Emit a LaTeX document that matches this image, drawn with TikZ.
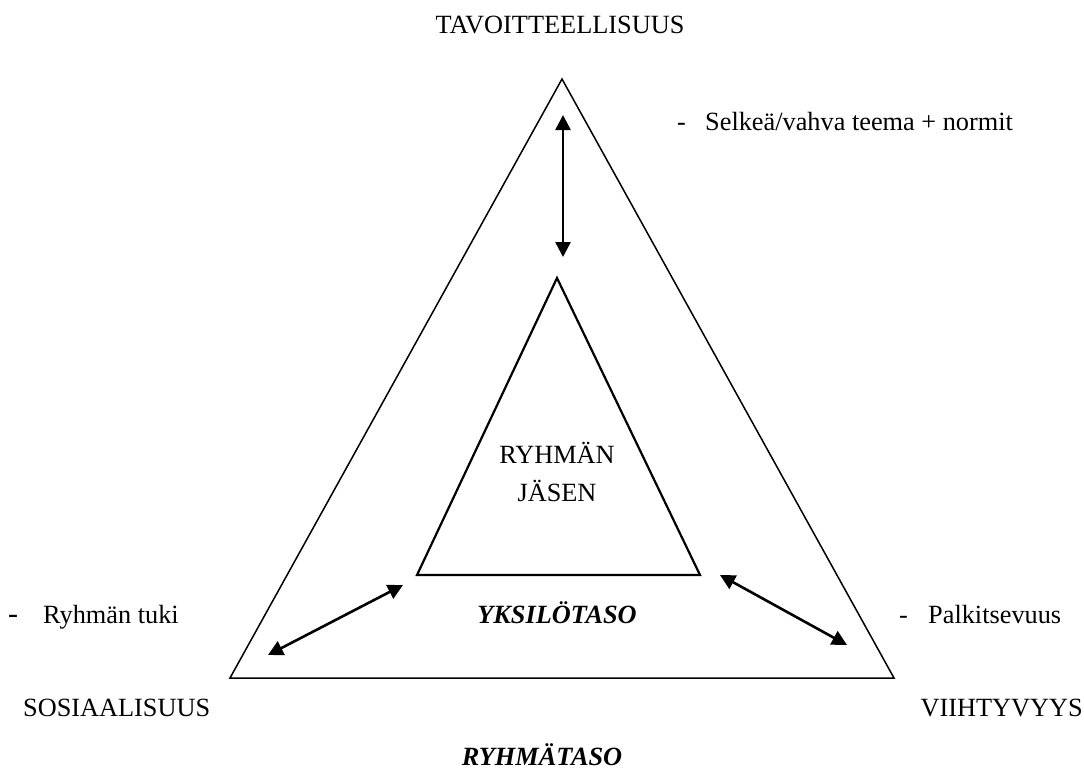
\documentclass[tikz,border=0pt]{standalone}
\usepackage{fontspec}
\setmainfont{Liberation Serif}
\usetikzlibrary{arrows.meta}

\tikzset{
  lbl/.style={inner sep=0pt, font=\fontsize{26.3}{30}\selectfont},
  lvl/.style={lbl, font=\fontsize{26.3}{30}\selectfont\bfseries\itshape},
  frame/.style={line width=1.5pt, line join=miter},
  core/.style={line width=2.2pt, line join=miter},
  link/.style={line width=2.6pt, {Triangle[length=15pt,width=15pt]}-{Triangle[length=15pt,width=15pt]}}
}

\begin{document}
\begin{tikzpicture}[x=1pt, y=-1pt]
  \useasboundingbox (0,0) rectangle (1084,769);

  % outer triangle: group level
  \coordinate (oa) at (562,79);
  \coordinate (ol) at (230,678);
  \coordinate (or) at (894,678);
  \draw[frame] (oa) -- (ol) -- (or) -- cycle;

  % inner triangle: individual level
  \coordinate (ia) at (557,278);
  \coordinate (il) at (417,575);
  \coordinate (ir) at (700,575);
  \draw[core] (ia) -- (il) -- (ir) -- cycle;

  % two-way links between the levels
  \coordinate (t1) at (563,115);
  \coordinate (t2) at (563,257);
  \coordinate (l1) at (268,655);
  \coordinate (l2) at (403,585);
  \coordinate (r1) at (720,575);
  \coordinate (r2) at (847,645);
  \draw[link] (t1) -- (t2);
  \draw[link] (l1) -- (l2);
  \draw[link] (r1) -- (r2);

  % corner labels
  \node[lbl, anchor=base] (tav) at (560,33) {TAVOITTEELLISUUS};
  \node[lbl, anchor=base west] (sos) at (23,716) {SOSIAALISUUS};
  \node[lbl, anchor=base east] (vii) at (1083,716) {VIIHTYVYYS};

  % side notes
  \node[lbl, anchor=base west] (d1) at (677,130) {-};
  \node[lbl, anchor=base west] (sel) at (705,130) {Selkeä/vahva teema + normit};
  \node[lbl, anchor=base west, font=\fontsize{30}{30}\selectfont] (d2) at (8,623) {-};
  \node[lbl, anchor=base west] (tuk) at (43,623) {Ryhmän tuki};
  \node[lbl, anchor=base west] (d3) at (899,623) {-};
  \node[lbl, anchor=base west] (pal) at (928,623) {Palkitsevuus};

  % centre and level names
  \node[lbl, anchor=base] (ryh) at (557,463) {RYHMÄN};
  \node[lbl, anchor=base] (jas) at (557,501) {JÄSEN};
  \node[lvl, anchor=base] (yks) at (557,623) {YKSILÖTASO};
  \node[lvl, anchor=base] (rta) at (542,765) {RYHMÄTASO};
\end{tikzpicture}
\end{document}
